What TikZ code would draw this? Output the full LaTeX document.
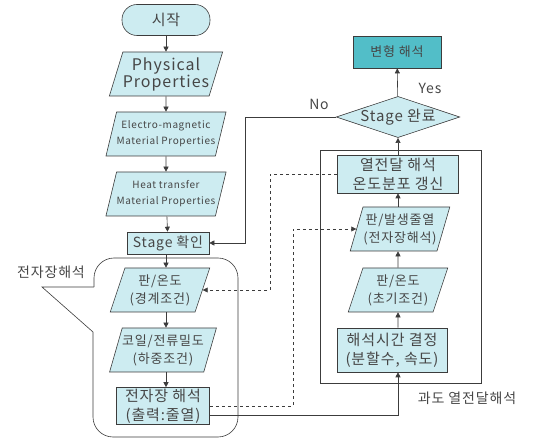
\documentclass[tikz,border=0pt]{standalone}
\usepackage{fontspec}
\setmainfont{Noto Sans CJK KR}[LetterSpace=6]
\usetikzlibrary{shapes.geometric, arrows.meta}
\definecolor{boxfill}{RGB}{205,236,241}
\definecolor{endfill}{RGB}{82,190,200}
\definecolor{linegray}{RGB}{60,60,60}
\definecolor{txtgray}{RGB}{70,70,70}

\begin{document}
\begin{tikzpicture}[
                    x=1pt, y=-1pt,
                    every node/.style={text=txtgray, align=center},
                    line/.style={draw=linegray, semithick},
                    flow/.style={line, -{Triangle[width=5pt,length=5pt]}},
                    dashflow/.style={flow, dashed},
                    terminal/.style={line, fill=boxfill, rounded corners=15pt, minimum width=88pt, minimum height=31pt, font=\fontsize{15}{17}\selectfont},
                    process/.style={line, fill=boxfill, inner sep=1pt},
                    data/.style={line, fill=boxfill, trapezium, trapezium left angle=68, trapezium right angle=112, trapezium stretches=true, minimum width=100pt, minimum height=44pt, inner sep=0pt},
                    decision/.style={line, fill=boxfill, diamond, aspect=3, minimum width=120pt, minimum height=41pt, inner sep=0pt},
                    note/.style={font=\fontsize{14}{16}\selectfont}
                ]
  \useasboundingbox (0,0) rectangle (533,438);

  % left column
  \node[terminal] (start) at (166,20) {시작};
  \node[data, font=\fontsize{16}{17}\selectfont] (phys) at (166,74) {Physical\\Properties};
  \node[data, font=\fontsize{10}{16}\selectfont] (emprop) at (166,134) {Electro-magnetic\\Material Properties};
  \node[data, font=\fontsize{10}{16}\selectfont] (heatprop) at (166,194) {Heat transfer\\Material Properties};
  \node[process, minimum width=82pt, minimum height=22pt, font=\fontsize{14}{16}\selectfont] (stagechk) at (168,243) {Stage 확인};
  \node[data, font=\fontsize{13}{18}\selectfont] (bcond) at (160,290) {판/온도\\(경계조건)};
  \node[data, font=\fontsize{13}{18}\selectfont] (load) at (163,350) {코일/전류밀도\\(하중조건)};
  \node[process, minimum width=93pt, minimum height=37pt, font=\fontsize{15}{19}\selectfont] (emsolve) at (163,406) {전자장 해석\\(출력:줄열)};

  % em analysis callout
  \draw[line, rounded corners=20pt] (94,287) -- (94,258) -- (238,258) -- (238,437) -- (93,437) -- (93,332);
  \draw[line] (93,332) -- (42,287) -- (94,287);
  \node[note] (emlabel) at (51,272) {전자장해석};

  % right column
  \node[process, fill=endfill, minimum width=88pt, minimum height=32pt, font=\fontsize{13}{15}\selectfont] (deform) at (397,52) {변형 해석};
  \node[decision, font=\fontsize{15}{16}\selectfont] (decide) at (398,117) {Stage 완료};
  \node[line, minimum width=161pt, minimum height=233pt] (heatbox) at (400.5,266.5) {};
  \node[process, minimum width=121pt, minimum height=38pt, font=\fontsize{15}{19}\selectfont] (update) at (398,174) {열전달 해석\\온도분포 갱신};
  \node[data, font=\fontsize{13}{18}\selectfont] (hgen) at (400,229) {판/발생줄열\\(전자장해석)};
  \node[data, font=\fontsize{13}{18}\selectfont] (init) at (398,290) {판/온도\\(초기조건)};
  \node[process, minimum width=110pt, minimum height=44pt, font=\fontsize{15}{19}\selectfont] (timeset) at (392,350) {해석시간 결정\\(분할수, 속도)};
  \node[note] (heatlabel) at (467,398) {과도 열전달해석};

  % connectors
  \draw[flow] (start) -- (phys);
  \draw[flow] (phys) -- (emprop);
  \draw[flow] (emprop) -- (heatprop);
  \draw[flow] (heatprop) -- (stagechk);
  \draw[flow] (stagechk.south -| start) -- (bcond.north -| start);
  \draw[flow] (bcond.south -| start) -- (load.north -| start);
  \draw[flow] (load.south -| start) -- (emsolve.north -| start);
  \draw[flow] ([yshift=-9pt]emsolve.east) -| ([xshift=6pt]timeset.south);
  \draw[dashflow] (emsolve.east) -- ++(83,0) |- (hgen.west);
  \draw[dashflow] (update.west) -- ++(-67,0) |- (bcond.east);
  \draw[flow] (timeset.north -| init) -- (init);
  \draw[flow] (init) -- (hgen.south -| init);
  \draw[flow] (hgen.north -| init) -- (update);
  \draw[flow] (update) -- (decide);
  \draw[flow] (decide) -- (deform);
  \draw[flow] (decide.west) -- ++(-91,0) |- (stagechk.east);
  \node[note] (yes) at (430,88) {Yes};
  \node[note] (no) at (319,104) {No};
\end{tikzpicture}
\end{document}
